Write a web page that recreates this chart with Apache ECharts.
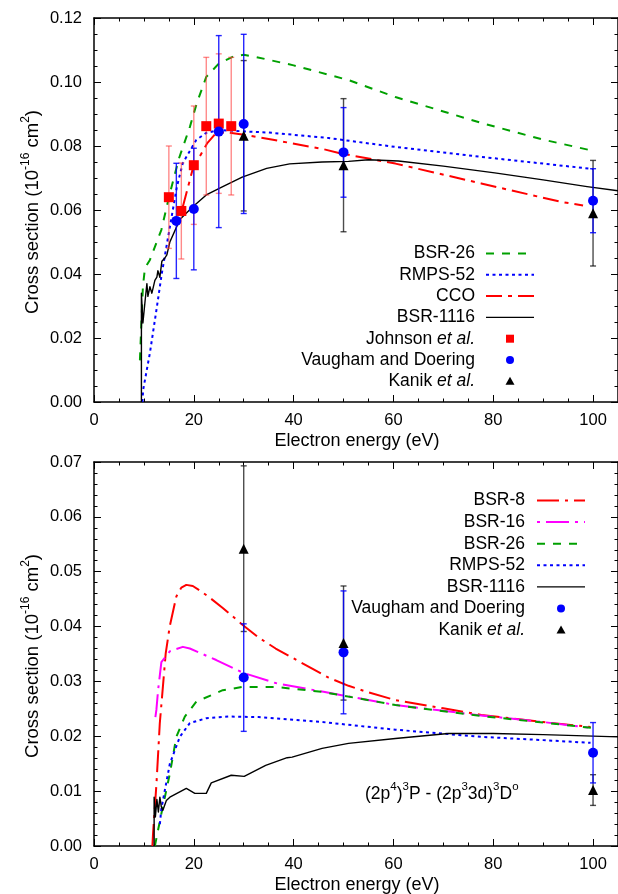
<!DOCTYPE html>
<html><head><meta charset="utf-8">
<script src="https://cdn.jsdelivr.net/npm/echarts@6.0.0/dist/echarts.min.js"></script>
<style>html,body{margin:0;padding:0;background:#fff}#c{width:618px;height:894px}</style>
</head><body><div id="c"></div>
<script>
// ---------- axis ticks ----------
const xTickLabels = [0, 20, 40, 60, 80, 100];
const xMax = 105;
const yTicksTop = [0, 0.02, 0.04, 0.06, 0.08, 0.10, 0.12];
const yTicksBottom = [0, 0.01, 0.02, 0.03, 0.04, 0.05, 0.06, 0.07];

// ---------- top panel: theory curves [energy eV, cross section] ----------
const topBSR26 = [[9.2,0.013],[9.5,0.025],[9.8,0.036],[10.2,0.0418],[11.2,0.0444],[12.2,0.0485],[13.5,0.0538],[15.2,0.0652],[17,0.076],[19.2,0.0859],[20.6,0.0934],[22.5,0.1016],[25.1,0.1059],[28,0.108],[30,0.1085],[32.5,0.1078],[40,0.1052],[51,0.1006],[60.4,0.0953],[70,0.0908],[77.6,0.0872],[90,0.082],[100,0.0785]];
const topRMPS52 = [[9.7,0.0],[9.85,0.0038],[11.2,0.0153],[12.6,0.0297],[13.6,0.0403],[15.2,0.0547],[16.6,0.0672],[17.8,0.0747],[20.5,0.0819],[22.5,0.0841],[25.1,0.085],[29.7,0.0846],[35,0.0842],[47,0.0825],[60.4,0.0797],[77.6,0.0766],[90,0.0745],[100,0.0728]];
const topCCO = [[17.8,0.061],[19.8,0.0729],[22.7,0.0809],[24.5,0.0841],[26.5,0.0843],[29.7,0.0836],[35,0.0822],[46,0.079],[49.4,0.0777],[60.4,0.0745],[77.6,0.0683],[93.4,0.0626],[98,0.0614]];
const topBSR1116 = [[9.5,0.0],[9.5,0.034],[9.8,0.0247],[10.2,0.031],[10.6,0.037],[10.8,0.033],[11.2,0.036],[11.6,0.034],[12.2,0.038],[12.6,0.039],[12.8,0.041],[13.2,0.039],[13.6,0.044],[14.2,0.045],[14.6,0.046],[15.2,0.05],[17.2,0.057],[19.8,0.061],[22.5,0.0647],[25.7,0.0672],[29.7,0.0703],[34.6,0.073],[39.2,0.0744],[45.7,0.075],[51,0.0752],[55,0.0757],[61,0.0753],[70,0.0737],[80.3,0.0716],[90,0.0694],[98.8,0.0673],[105,0.066]];

// ---------- top panel: experiments ----------
const johnsonE = [15, 17.5, 20, 22.5, 25, 27.5];
const johnsonCS = [0.064, 0.0597, 0.074, 0.0862, 0.087, 0.0862];
const johnsonErr = [0.016, 0.015, 0.0185, 0.0215, 0.0218, 0.0215];
const vaughamE = [16.5, 20, 25, 30, 50, 100];
const vaughamCS = [0.0566, 0.0603, 0.0845, 0.0869, 0.078, 0.0629];
const vaughamErr = [0.018, 0.019, 0.030, 0.028, 0.014, 0.010];
const kanikE = [30, 50, 100];
const kanikCS = [0.0832, 0.074, 0.059];
const kanikErr = [0.0235, 0.0208, 0.0165];

// ---------- bottom panel: theory curves ----------
const botBSR8 = [[11.7,0.0],[11.84,0.0024],[12.52,0.0114],[13.18,0.0223],[14.37,0.0351],[15.17,0.040],[16.5,0.0455],[17.5,0.0471],[18.5,0.0476],[19.8,0.0474],[21,0.0467],[23,0.0454],[25.8,0.0434],[29.8,0.0403],[33,0.0380],[36.4,0.0360],[40,0.0342],[44,0.0322],[47,0.0307],[51,0.0292],[55,0.0280],[60.4,0.0266],[70,0.0251],[77.6,0.0239],[90,0.0226],[99.5,0.0217]];
const botBSR16 = [[12.3,0.0235],[12.5,0.0248],[12.84,0.0284],[13.5,0.0335],[15.2,0.0355],[17.8,0.0363],[19.2,0.036],[24.5,0.0339],[29.8,0.0316],[36.4,0.0297],[46,0.0281],[60.4,0.0257],[77.6,0.0238],[90,0.0226],[99,0.0216]];
const botBSR26 = [[12.2,0.0],[13.5,0.0059],[15.2,0.0132],[16.5,0.0199],[18.2,0.0236],[20.5,0.0263],[25.8,0.0284],[29.8,0.029],[36.4,0.029],[45.7,0.0281],[60.4,0.0257],[77.6,0.0237],[90,0.0225],[100.9,0.0214]];
const botRMPS52 = [[13.2,0.004],[13.5,0.0068],[15.2,0.015],[17.2,0.0199],[19.2,0.0224],[22.5,0.0233],[27.1,0.0236],[33,0.0235],[45.7,0.0226],[60.4,0.0212],[77.6,0.0199],[90,0.0193],[99.5,0.0188]];
const botBSR1116 = [[12.05,0.0],[12.05,0.0089],[12.3,0.0053],[12.6,0.0085],[12.9,0.0062],[13.2,0.0089],[13.5,0.0071],[13.8,0.0065],[14.5,0.0083],[15.2,0.0089],[18.5,0.0105],[20.2,0.0096],[22.5,0.0096],[23.5,0.0115],[27.5,0.0129],[30.1,0.0127],[34.4,0.0147],[38.7,0.0161],[39.7,0.0162],[45.7,0.0178],[51,0.0187],[60.4,0.0196],[71,0.0205],[80,0.0205],[90,0.0203],[105,0.0199]];

// ---------- bottom panel: experiments ----------
const vaughamE2 = [30, 50, 100];
const vaughamCS2 = [0.0307, 0.0353, 0.017];
const vaughamErr2 = [0.0098, 0.0112, 0.0055];
const kanikE2 = [30, 50, 100];
const kanikCS2 = [0.0542, 0.037, 0.0102];
const kanikErr2 = [0.0151, 0.0104, 0.0028];

// ---------- styling ----------
const FONT = '"Liberation Sans", Arial, Helvetica, sans-serif';
const GREEN = '#00a000', BLUE = '#0000ff', RED = '#ff0000', MAGENTA = '#ff00ff';
const DASH_GREEN = [8, 8], DOT_BLUE = [3, 3.5], DASHDOT_RED = [16, 6, 4, 6], DASHDOT_BSR8 = [22, 6, 3, 6], DASHDOT_MAG = [23, 6, 3, 6];

const chart = echarts.init(document.getElementById('c'), null, {renderer: 'canvas'});

const GRID_LEFT = 94, GRID_W = 527, GRID_H = 384;
const grids = [
  {left: GRID_LEFT, top: 18, width: GRID_W, height: GRID_H},
  {left: GRID_LEFT, top: 462, width: GRID_W, height: GRID_H}
];

function xAx(gi, pos) {
  return {
    type: 'value', gridIndex: gi, position: pos, min: xTickLabels[0], max: xMax,
    interval: xTickLabels[1] - xTickLabels[0],
    axisLine: {show: true, onZero: false, lineStyle: {color: '#000', width: 1.5}},
    axisTick: {show: true, inside: true, length: 7, lineStyle: {color: '#000', width: 1}},
    minorTick: {show: true, splitNumber: 4, length: 3.5, lineStyle: {color: '#000', width: 1}},
    splitLine: {show: false}, minorSplitLine: {show: false},
    axisLabel: {show: pos === 'bottom', showMaxLabel: false, margin: 10, color: '#000', fontSize: 16.5, fontFamily: FONT,
      formatter: v => xTickLabels.indexOf(v) >= 0 ? String(v) : ''}
  };
}
function yAx(gi, pos, ticks, minorSplit) {
  return {
    type: 'value', gridIndex: gi, position: pos, min: ticks[0], max: ticks[ticks.length - 1],
    interval: ticks[1] - ticks[0],
    axisLine: {show: true, onZero: false, lineStyle: {color: '#000', width: 1.5}},
    axisTick: {show: true, inside: true, length: 7, lineStyle: {color: '#000', width: 1}},
    minorTick: {show: true, splitNumber: minorSplit, length: 3.5, lineStyle: {color: '#000', width: 1}},
    splitLine: {show: false}, minorSplitLine: {show: false},
    axisLabel: {show: pos === 'left', margin: 12, color: '#000', fontSize: 16.5, fontFamily: FONT,
      formatter: v => v.toFixed(2)}
  };
}

function lineS(xi, yi, data, color, dash, width, z) {
  return {type: 'line', xAxisIndex: xi, yAxisIndex: yi, data: data, showSymbol: false, symbol: 'none',
    smooth: false, z: z, silent: true, clip: true,
    lineStyle: {color: color, width: width, type: dash, cap: 'butt', join: 'round'}};
}
function errS(xi, yi, es, cs, errs, color, width, z) {
  return {
    type: 'custom', xAxisIndex: xi, yAxisIndex: yi, z: z, silent: true,
    data: es.map((e, i) => [e, cs[i] - errs[i], cs[i] + errs[i]]),
    encode: {x: 0, y: [1, 2]},
    renderItem: function (params, api) {
      const lo = api.coord([api.value(0), api.value(1)]);
      const hi = api.coord([api.value(0), api.value(2)]);
      const c = 3;
      const st = {stroke: color, lineWidth: width, fill: null};
      return {type: 'group', children: [
        {type: 'line', shape: {x1: lo[0], y1: lo[1], x2: hi[0], y2: hi[1]}, style: st},
        {type: 'line', shape: {x1: lo[0] - c, y1: lo[1], x2: lo[0] + c, y2: lo[1]}, style: st},
        {type: 'line', shape: {x1: hi[0] - c, y1: hi[1], x2: hi[0] + c, y2: hi[1]}, style: st}
      ]};
    }
  };
}
function ptS(xi, yi, es, cs, symbol, size, color, z) {
  return {type: 'scatter', xAxisIndex: xi, yAxisIndex: yi, z: z, silent: true,
    data: es.map((e, i) => [e, cs[i]]), symbol: symbol, symbolSize: size,
    itemStyle: {color: color, opacity: 1}};
}

// ---------- legends (graphic) ----------
const legendFont = {fontSize: 17.5, fontFamily: FONT, fill: '#000'};
const rich = {
  i: {fontStyle: 'italic', fontSize: 17.5, fontFamily: FONT, fill: '#000', verticalAlign: 'middle'}
};
function legendText(x, y, txt) {
  return {type: 'text', x: x, y: y, z: 100, style: Object.assign({text: txt, align: 'right', verticalAlign: 'middle', rich: rich}, legendFont)};
}
function legendLine(x1, x2, y, color, dash, width) {
  return {type: 'line', z: 100, shape: {x1: x1, y1: y, x2: x2, y2: y}, style: {stroke: color, lineWidth: width, lineDash: dash}};
}
function legendMarker(cx, cy, kind, color) {
  if (kind === 'rect') return {type: 'rect', z: 100, shape: {x: cx - 4, y: cy - 4, width: 8, height: 8}, style: {fill: color}};
  if (kind === 'circle') return {type: 'circle', z: 100, shape: {cx: cx, cy: cy, r: 4}, style: {fill: color}};
  return {type: 'polygon', z: 100, shape: {points: [[cx, cy - 4.5], [cx - 4.5, cy + 3.5], [cx + 4.5, cy + 3.5]]}, style: {fill: color}};
}

const topLegend = [
  ['BSR-26', 'line', GREEN, DASH_GREEN, 2],
  ['RMPS-52', 'line', BLUE, DOT_BLUE, 2],
  ['CCO', 'line', RED, DASHDOT_RED, 2],
  ['BSR-1116', 'line', '#000', null, 1.4],
  ['Johnson {i|et al.}', 'rect', RED],
  ['Vaugham and Doering', 'circle', BLUE],
  ['Kanik {i|et al.}', 'triangle', '#000']
];
const botLegend = [
  ['BSR-8', 'line', RED, DASHDOT_BSR8, 2],
  ['BSR-16', 'line', MAGENTA, [3, 6, 23, 6], 2],
  ['BSR-26', 'line', GREEN, DASH_GREEN, 2],
  ['RMPS-52', 'line', BLUE, DOT_BLUE, 2],
  ['BSR-1116', 'line', '#000', null, 1.4],
  ['Vaugham and Doering', 'circle', BLUE],
  ['Kanik {i|et al.}', 'triangle', '#000']
];
const graphics = [];
function buildLegend(items, textX, lx1, lx2, mx, y0, dy) {
  items.forEach((it, k) => {
    const y = y0 + k * dy;
    graphics.push(legendText(textX, y, it[0]));
    if (it[1] === 'line') graphics.push(legendLine(lx1, lx2, y, it[2], it[3], it[4]));
    else graphics.push(legendMarker(mx, y, it[1], it[2]));
  });
}
buildLegend(topLegend, 475, 486, 534, 510, 253.5, 21.3);
buildLegend(botLegend, 525, 537, 585, 561, 500.5, 21.6);

// axis titles
const titleRich = {
  n: {fontSize: 18.5, fontFamily: FONT, fill: '#000', lineHeight: 26, verticalAlign: 'middle'},
  s: {fontSize: 12, fontFamily: FONT, fill: '#000', lineHeight: 10, verticalAlign: 'top'}
};
const yTitle = '{n|Cross section (10}{s|-16}{n| cm}{s|2}{n|)}';
graphics.push({type: 'text', x: 33, y: 212, rotation: Math.PI / 2, z: 100,
  style: {text: yTitle, rich: titleRich, align: 'center', verticalAlign: 'middle'}});
graphics.push({type: 'text', x: 33, y: 656, rotation: Math.PI / 2, z: 100,
  style: {text: yTitle, rich: titleRich, align: 'center', verticalAlign: 'middle'}});
graphics.push({type: 'text', x: 357, y: 441, z: 100,
  style: {text: 'Electron energy (eV)', fontSize: 18, fontFamily: FONT, fill: '#000', align: 'center', verticalAlign: 'middle'}});
graphics.push({type: 'text', x: 357, y: 885, z: 100,
  style: {text: 'Electron energy (eV)', fontSize: 18, fontFamily: FONT, fill: '#000', align: 'center', verticalAlign: 'middle'}});
// annotation
const annRich = {
  n: {fontSize: 17.5, fontFamily: FONT, fill: '#000', lineHeight: 26, verticalAlign: 'middle'},
  s: {fontSize: 11.5, fontFamily: FONT, fill: '#000', lineHeight: 10, verticalAlign: 'top'}
};
graphics.push({type: 'text', x: 365, y: 794, z: 100,
  style: {text: '{n|(2p}{s|4}{n|)}{s|3}{n|P - (2p}{s|3}{n|3d)}{s|3}{n|D}{s|o}', rich: annRich, align: 'left', verticalAlign: 'middle'}});

const option = {
  animation: false,
  backgroundColor: '#fff',
  grid: grids,
  xAxis: [xAx(0, 'bottom'), xAx(0, 'top'), xAx(1, 'bottom'), xAx(1, 'top')],
  yAxis: [yAx(0, 'left', yTicksTop, 4), yAx(0, 'right', yTicksTop, 4), yAx(1, 'left', yTicksBottom, 5), yAx(1, 'right', yTicksBottom, 5)],
  series: [
    // top panel
    lineS(0, 0, topBSR26, GREEN, DASH_GREEN, 2, 2),
    lineS(0, 0, topRMPS52, BLUE, DOT_BLUE, 2, 2),
    lineS(0, 0, topCCO, RED, DASHDOT_RED, 2, 2),
    lineS(0, 0, topBSR1116, '#000', 'solid', 1.4, 2),
    errS(0, 0, johnsonE, johnsonCS, johnsonErr, 'rgba(255,60,60,0.6)', 1.4, 3),
    errS(0, 0, kanikE, kanikCS, kanikErr, 'rgba(0,0,0,0.7)', 1.4, 3),
    errS(0, 0, vaughamE, vaughamCS, vaughamErr, 'rgba(0,0,255,0.85)', 1.4, 3),
    ptS(0, 0, johnsonE, johnsonCS, 'rect', 10, RED, 5),
    ptS(0, 0, vaughamE, vaughamCS, 'circle', 10, BLUE, 5),
    ptS(0, 0, kanikE, kanikCS, 'triangle', 10, '#000', 5),
    // bottom panel
    lineS(2, 2, botBSR8, RED, DASHDOT_BSR8, 2, 2),
    lineS(2, 2, botBSR16, MAGENTA, DASHDOT_MAG, 2, 2),
    lineS(2, 2, botBSR26, GREEN, DASH_GREEN, 2, 2),
    lineS(2, 2, botRMPS52, BLUE, DOT_BLUE, 2, 2),
    lineS(2, 2, botBSR1116, '#000', 'solid', 1.4, 2),
    errS(2, 2, kanikE2, kanikCS2, kanikErr2, 'rgba(0,0,0,0.7)', 1.4, 3),
    errS(2, 2, vaughamE2, vaughamCS2, vaughamErr2, 'rgba(0,0,255,0.85)', 1.4, 3),
    ptS(2, 2, vaughamE2, vaughamCS2, 'circle', 10, BLUE, 5),
    ptS(2, 2, kanikE2, kanikCS2, 'triangle', 10, '#000', 5)
  ],
  graphic: graphics
};
chart.setOption(option);
</script>
</body></html>
